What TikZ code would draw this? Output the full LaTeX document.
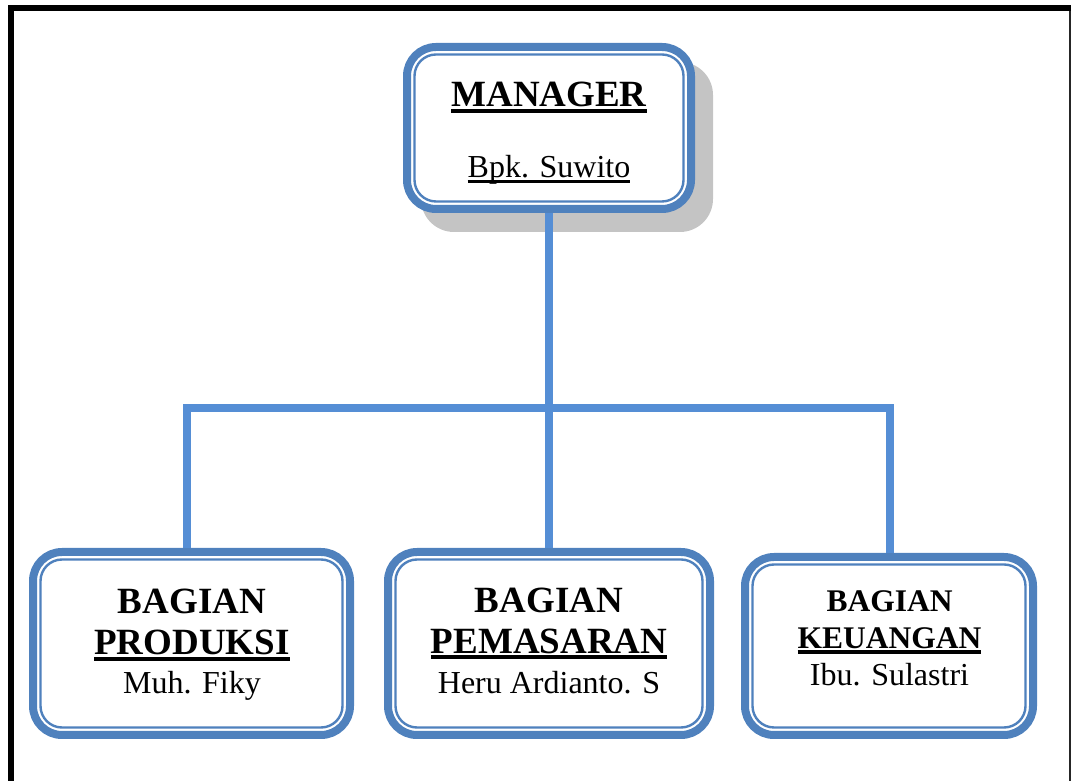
\documentclass[tikz,border=0pt]{standalone}
\usepackage{fontspec}
\setmainfont{Liberation Serif}
\usetikzlibrary{backgrounds}
\definecolor{boxblue}{RGB}{79,129,189}
\definecolor{connblue}{RGB}{85,142,213}
\definecolor{shadowgray}{RGB}{196,196,196}
\newcommand\ulthick[1]{\setbox0\hbox{#1}\rlap{\rule[-6pt]{\wd0}{4pt}}\box0}
\newcommand\ulthin[1]{\setbox0\hbox{#1}\rlap{\rule[-5pt]{\wd0}{2.5pt}}\box0}
\newcommand\bigbold{\fontsize{37}{40}\selectfont\bfseries}
\newcommand\smallbold{\fontsize{31.5}{34}\selectfont\bfseries}
\newcommand\plain{\fontsize{32}{35}\selectfont}
\tikzset{
  orgbox/.style={draw=boxblue, line width=8pt, fill=white, rounded corners=29pt, inner sep=0pt},
  innerline/.style={draw=boxblue, line width=2.4pt, rounded corners=21.5pt},
  conn/.style={draw=connblue, line width=7.5pt},
  txt/.style={anchor=base, inner sep=0pt, text=black},
}
\begin{document}
\begin{tikzpicture}[x=1pt,y=1pt]
\useasboundingbox (0,0) rectangle (1071,781);
% frame
\draw[line width=6pt] (10.5,0) -- (10.5,773) -- (1071,773);
\draw[line width=1.6pt, black!85] (1070.2,770) -- (1070.2,0);
% boxes
\node[orgbox, minimum width=284pt, minimum height=162pt] (mgr) at (549,653) {};
\node[orgbox, minimum width=317pt, minimum height=183pt] (left) at (191.5,137.5) {};
\node[orgbox, minimum width=322pt, minimum height=183pt] (mid) at (549,137.5) {};
\node[orgbox, minimum width=288pt, minimum height=178pt] (right) at (889,135) {};
\foreach \b in {mgr,left,mid,right}{
  \draw[innerline] ([shift={(11.5,-11.5)}]\b.north west) rectangle ([shift={(-11.5,11.5)}]\b.south east);
}
% shadow
\begin{pgfonlayer}{background}
\fill[shadowgray, rounded corners=33pt] ([shift={(18,-19)}]mgr.north west) rectangle ([shift={(18,-19)}]mgr.south east);
\end{pgfonlayer}
% connectors
\coordinate (hl) at (187,373);
\coordinate (hr) at (890,373);
\draw[conn] (mgr.south) -- (mid.north);
\draw[conn] (left.north -| hl) -- (hl) -- (hr) -- (right.north -| hr);
% texts
\node[txt, font=\bigbold] (mgrA) at (549,674) {\ulthick{MANAGER}};
\node[txt, font=\plain] (mgrB) at (549,603) {\ulthin{Bpk. Suwito}};
\node[txt, font=\bigbold] (leftA) at (192,167.7) {BAGIAN};
\node[txt, font=\bigbold] (leftB) at (192,126) {\ulthick{PRODUKSI}};
\node[txt, font=\plain] (leftC) at (192,87) {Muh. Fiky};
\node[txt, font=\bigbold] (midA) at (549,168.3) {BAGIAN};
\node[txt, font=\bigbold] (midB) at (549,127.7) {\ulthick{PEMASARAN}};
\node[txt, font=\plain] (midC) at (549,87.7) {Heru Ardianto. S};
\node[txt, font=\smallbold] (rightA) at (889.5,169.3) {BAGIAN};
\node[txt, font=\smallbold] (rightB) at (889.5,132.7) {\ulthick{KEUANGAN}};
\node[txt, font=\plain] (rightC) at (889.5,95) {Ibu. Sulastri};
\end{tikzpicture}
\end{document}
